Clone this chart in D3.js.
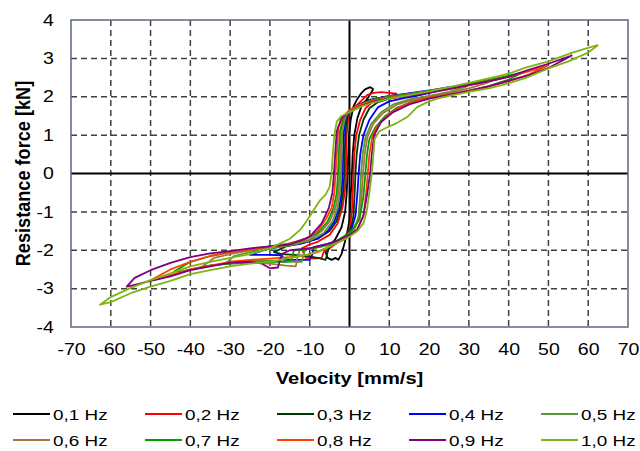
<!DOCTYPE html>
<html>
<head>
<meta charset="utf-8">
<title>Resistance force vs velocity</title>
<style>
  body { margin: 0; background: #fff; }
  text { font-family: "Liberation Sans", Arial, sans-serif; fill: #000; }
  .tick text { font-size: 16px; }
  .grid line { stroke: #404040; stroke-width: 1.5; stroke-dasharray: 6,4; }
  .title { font-size: 16.5px; font-weight: bold; }
  .leg { font-size: 15.5px; }
</style>
<script src="https://d3js.org/d3.v7.min.js"></script>
</head>
<body>
<svg id="chart" width="640" height="451"></svg>
<script>
// series labels and colours
var names = ["0,1 Hz", "0,2 Hz", "0,3 Hz", "0,4 Hz", "0,5 Hz", "0,6 Hz", "0,7 Hz", "0,8 Hz", "0,9 Hz", "1,0 Hz"];
var colors = ["#000000", "#ff0000", "#003a00", "#0000ff", "#5a9a32", "#a8743f", "#00a000", "#ff4000", "#800080", "#7fb414"];

var xTicks = [-70, -60, -50, -40, -30, -20, -10, 0, 10, 20, 30, 40, 50, 60, 70];
var yTicks = [-4, -3, -2, -1, 0, 1, 2, 3, 4];

// loops: [velocity mm/s, force kN]
var f01 = [[6,2.2],[5.2,2.25],[4,2.2],[3,2.1],[2,1.95],[1,1.75],[0.3,1.4],[-0.1,1.0],[-0.3,0.5],[-0.5,0],[-0.7,-0.5],[-1.1,-1.0],[-2,-1.4],[-3.5,-1.7],[-5,-1.9],[-6,-2.05],
  [-5.5,-2.2],[-4.5,-2.25],[-3.5,-2.2],[-2.8,-2.25],[-2,-2.1],[-1.2,-1.8],[-0.5,-1.5],[0,-1.2],[0.3,-0.6],[0.6,0],[0.8,0.5],[1.2,1.0],[2,1.45],[3,1.75],[4.5,1.95],[6,2.2]];
var f02 = [[12,2.08],[10,2.1],[8,2.12],[6,2.1],[4.5,2.05],[3,1.9],[1.5,1.75],[0,1.6],[-0.4,1.4],[-0.7,1.0],[-0.8,0.5],[-0.9,0],[-1.2,-0.5],[-1.8,-0.9],[-3,-1.3],[-5,-1.6],[-8,-1.78],[-10,-1.85],[-12,-1.95],
  [-11,-2.2],[-9,-2.22],[-7,-2.2],[-6.5,-2.05],[-5,-1.95],[-3,-1.8],[-1,-1.62],[0,-1.45],[0.6,-1.0],[0.8,-0.5],[1.0,0],[1.2,0.5],[1.7,1.0],[2.7,1.4],[4,1.7],[6,1.88],[9,1.98],[12,2.08]];
var f03 = [[19,2.12],[16,2.08],[12,2.03],[8,1.98],[5,1.92],[2.5,1.8],[0,1.65],[-0.6,1.45],[-1.0,1.1],[-1.2,0.5],[-1.3,0],[-1.6,-0.5],[-2.2,-0.9],[-3.3,-1.25],[-5,-1.5],[-8,-1.7],[-12,-1.82],[-16,-1.9],[-19,-2.05],
  [-17,-2.1],[-14,-2.12],[-11,-2.15],[-8,-2.2],[-6,-2.25],[-5.5,-2.05],[-5,-1.9],[-3,-1.78],[-1,-1.62],[0.3,-1.45],[1,-1.1],[1.3,-0.5],[1.5,0],[1.8,0.5],[2.4,1.0],[3.5,1.4],[5,1.7],[7,1.85],[10,1.95],[14,2.03],[19,2.12]];
var f04 = [[25,2.25],[21,2.18],[17,2.12],[13,2.06],[9,2.0],[6,1.93],[3,1.82],[0,1.65],[-0.9,1.45],[-1.4,1.1],[-1.6,0.5],[-1.7,0],[-2.0,-0.5],[-2.6,-0.9],[-3.8,-1.25],[-5.5,-1.5],[-8,-1.7],[-12,-1.82],[-17,-1.9],[-21,-1.98],[-25,-2.12],
  [-23,-2.12],[-20,-2.12],[-17,-2.13],[-16.5,-2.25],[-13,-2.25],[-10,-2.25],[-9.3,-2.1],[-9,-1.92],[-6,-1.85],[-3,-1.75],[-1,-1.62],[0.5,-1.45],[1.5,-1.1],[2,-0.5],[2.3,0],[2.7,0.5],[3.5,1.0],[5,1.4],[7.2,1.73],[10,1.88],[14,1.97],[18,2.05],[22,2.15],[25,2.25]];
var f05 = [[31,2.35],[27,2.27],[23,2.2],[19,2.13],[15,2.07],[10,2.0],[6,1.92],[3,1.8],[0,1.65],[-1.1,1.45],[-1.8,1.1],[-2.0,0.5],[-2.1,0],[-2.4,-0.5],[-3,-0.9],[-4.3,-1.25],[-6.5,-1.55],[-10,-1.75],[-15,-1.87],[-20,-1.95],[-25,-2.05],[-29,-2.15],[-31,-2.33],
  [-29,-2.32],[-25,-2.28],[-20,-2.27],[-16,-2.3],[-12,-2.3],[-11.5,-2.1],[-11,-1.95],[-8,-1.92],[-5,-1.85],[-2,-1.7],[0,-1.58],[1.5,-1.4],[2.3,-1.1],[2.7,-0.5],[2.9,0],[3.3,0.5],[4,0.95],[5.5,1.3],[8,1.6],[11,1.8],[15,1.93],[20,2.02],[25,2.13],[29,2.25],[31,2.35]];
var f06 = [[37,2.48],[33,2.4],[29,2.32],[25,2.24],[20,2.15],[15,2.07],[10,2.0],[6,1.92],[3,1.8],[0,1.65],[-1.3,1.45],[-2.1,1.1],[-2.3,0.5],[-2.5,0],[-2.8,-0.5],[-3.5,-0.9],[-5,-1.25],[-7,-1.5],[-10,-1.72],[-15,-1.85],[-20,-1.92],[-25,-2.0],[-30,-2.1],[-34,-2.2],[-37,-2.42],
  [-35,-2.4],[-30,-2.35],[-25,-2.32],[-20,-2.35],[-16,-2.4],[-13.5,-2.42],[-13,-2.15],[-12.5,-2.0],[-9,-1.95],[-6,-1.88],[-3,-1.75],[-1,-1.62],[1,-1.45],[2.5,-1.1],[3.1,-0.5],[3.4,0],[3.8,0.5],[4.5,0.95],[6,1.3],[8.5,1.58],[12,1.8],[16,1.92],[20,2.0],[25,2.1],[30,2.22],[34,2.34],[37,2.48]];
var f07 = [[44,2.65],[40,2.55],[35,2.43],[30,2.33],[25,2.23],[20,2.15],[15,2.07],[10,2.0],[6,1.92],[3,1.8],[0,1.65],[-1.5,1.45],[-2.4,1.1],[-2.7,0.5],[-2.9,0],[-3.2,-0.5],[-4,-0.9],[-5.5,-1.25],[-8,-1.55],[-12,-1.75],[-16,-1.85],[-20,-1.9],[-25,-1.97],[-30,-2.05],[-35,-2.15],[-40,-2.3],[-44,-2.55],
  [-42,-2.55],[-38,-2.45],[-34,-2.38],[-30,-2.35],[-25,-2.32],[-20,-2.3],[-16,-2.3],[-14.5,-2.25],[-14,-2.0],[-11,-1.98],[-7,-1.9],[-4,-1.8],[-1.5,-1.65],[0.5,-1.5],[2.5,-1.2],[3.5,-0.6],[4,0],[4.4,0.5],[5,0.9],[6.5,1.2],[9,1.5],[12,1.72],[16,1.88],[20,1.97],[25,2.06],[30,2.16],[35,2.28],[40,2.45],[44,2.65]];
var f08 = [[50,2.82],[45,2.66],[40,2.52],[35,2.4],[30,2.3],[25,2.2],[20,2.12],[15,2.05],[10,1.98],[6,1.9],[3,1.8],[0,1.65],[-1.5,1.5],[-2.8,1.2],[-3.2,0.5],[-3.5,0],[-3.8,-0.5],[-4.5,-0.9],[-6,-1.2],[-8,-1.5],[-11,-1.7],[-15,-1.82],[-20,-1.9],[-25,-1.98],[-30,-2.05],[-35,-2.15],[-40,-2.3],[-45,-2.5],[-50,-2.78],
  [-48,-2.75],[-45,-2.65],[-40,-2.5],[-35,-2.4],[-30,-2.3],[-25,-2.25],[-20,-2.22],[-15,-2.18],[-12,-2.15],[-8,-2.05],[-5,-1.9],[-2,-1.75],[0,-1.62],[2,-1.45],[3.5,-1.1],[4.2,-0.5],[4.6,0],[5,0.5],[5.8,1.0],[7.5,1.3],[10,1.55],[13,1.75],[17,1.9],[20,1.98],[25,2.06],[30,2.16],[35,2.27],[40,2.4],[45,2.58],[50,2.82]];
var f09 = [[56,3.08],[50,2.86],[45,2.7],[40,2.52],[35,2.4],[30,2.3],[25,2.2],[20,2.1],[15,2.02],[10,1.95],[6,1.87],[3,1.76],[0,1.6],[-2,1.45],[-3.2,1.1],[-3.6,0.5],[-3.9,0],[-4.3,-0.5],[-5.2,-0.9],[-7,-1.3],[-10,-1.65],[-15,-1.85],[-20,-1.9],[-25,-1.95],[-30,-2.02],[-35,-2.08],[-40,-2.18],[-45,-2.33],[-50,-2.52],[-54,-2.72],[-56,-2.95],
  [-54,-2.9],[-50,-2.8],[-45,-2.68],[-40,-2.52],[-35,-2.42],[-30,-2.32],[-25,-2.3],[-22,-2.35],[-20,-2.47],[-18,-2.45],[-17,-2.1],[-15,-2.0],[-10,-1.95],[-6,-1.85],[-3,-1.75],[0,-1.6],[2,-1.45],[3.5,-1.1],[4.5,-0.5],[5.2,0],[5.6,0.5],[6.2,1.0],[8,1.35],[11,1.6],[15,1.8],[20,1.95],[25,2.05],[30,2.15],[35,2.27],[40,2.42],[45,2.56],[50,2.75],[56,3.08]];
var f10 = [[62.5,3.35],[56,3.15],[50,2.92],[44,2.75],[40,2.6],[35,2.48],[30,2.36],[25,2.25],[20,2.14],[15,2.04],[10,1.95],[6,1.85],[3,1.75],[0,1.6],[-2,1.5],[-3.2,1.35],[-3.8,1.0],[-4.2,0.5],[-4.5,0],[-5,-0.35],[-6,-0.55],[-7.4,-0.7],[-9,-0.95],[-10.5,-1.2],[-12.4,-1.47],[-15,-1.7],[-20,-1.95],[-25,-2.1],[-30,-2.2],[-35,-2.3],[-40,-2.42],[-45,-2.6],[-50,-2.78],[-55,-2.98],[-60,-3.22],[-62.7,-3.42],
  [-60,-3.35],[-55,-3.12],[-50,-2.95],[-45,-2.8],[-40,-2.62],[-35,-2.52],[-30,-2.42],[-25,-2.35],[-20,-2.3],[-15,-2.2],[-10,-2.1],[-6,-1.95],[-3,-1.8],[0,-1.65],[2,-1.5],[3.5,-1.3],[4.3,-1.0],[5,-0.5],[5.6,0],[6,0.5],[6.3,0.9],[7.5,1.1],[9.4,1.2],[12,1.32],[14.5,1.47],[17,1.73],[20,1.88],[22,1.95],[25,2.02],[30,2.13],[35,2.22],[40,2.35],[45,2.52],[50,2.74],[55,2.92],[60,3.15],[62.5,3.35]];

var loops = [f01, f02, f03, f04, f05, f06, f07, f08, f09, f10];

var svg = d3.select("#chart");
var pLeft = 71, pRight = 628, pTop = 20, pBottom = 327;
var stretch = 1.22; // the reference text is drawn a bit wide

var x = d3.scaleLinear().domain([-70, 70]).range([pLeft, pRight]);
var y = d3.scaleLinear().domain([-4, 4]).range([pBottom, pTop]);

// dashed grid
var grid = svg.append("g").attr("class", "grid");
grid.selectAll(".gx").data(xTicks.filter(function(d) { return d != 0 && d != -70 && d != 70; }))
  .enter().append("line")
  .attr("x1", function(d) { return x(d); }).attr("x2", function(d) { return x(d); })
  .attr("y1", pTop).attr("y2", pBottom);
grid.selectAll(".gy").data(yTicks.filter(function(d) { return d != 0 && d != -4 && d != 4; }))
  .enter().append("line")
  .attr("y1", function(d) { return y(d); }).attr("y2", function(d) { return y(d); })
  .attr("x1", pLeft).attr("x2", pRight);

// zero axes
svg.append("line").attr("x1", x(0)).attr("x2", x(0)).attr("y1", pTop).attr("y2", pBottom)
  .attr("stroke", "#000").attr("stroke-width", 2);
svg.append("line").attr("x1", pLeft).attr("x2", pRight).attr("y1", y(0)).attr("y2", y(0))
  .attr("stroke", "#000").attr("stroke-width", 2);

// loops
var line = d3.line().x(function(d) { return x(d[0]); }).y(function(d) { return y(d[1]); });
svg.append("g").selectAll("path").data(loops).enter().append("path")
  .attr("d", line)
  .attr("fill", "none")
  .attr("stroke", function(d, i) { return colors[i]; })
  .attr("stroke-width", 1.8)
  .attr("stroke-linejoin", "round");

// plot border
svg.append("rect").attr("x", pLeft).attr("y", pTop).attr("width", pRight - pLeft).attr("height", pBottom - pTop)
  .attr("fill", "none").attr("stroke", "#5a6a7e").attr("stroke-width", 1.5);

// tick labels
var fmt = function(d) { return String(d); };
svg.append("g").attr("transform", "translate(0," + pBottom + ")")
  .call(d3.axisBottom(x).tickValues(xTicks).tickSize(0).tickPadding(17).tickFormat(fmt))
  .call(function(g) { g.select(".domain").remove(); });
svg.append("g").attr("transform", "translate(" + pLeft + ",0)")
  .call(d3.axisLeft(y).tickValues(yTicks).tickSize(0).tickPadding(14).tickFormat(fmt))
  .call(function(g) { g.select(".domain").remove(); });
svg.selectAll(".tick text").attr("fill", "#000")
  .attr("transform", "scale(" + stretch + ",1)")
  .style("font-family", "'Liberation Sans', Arial, sans-serif");

// axis titles
svg.append("text").attr("class", "title")
  .attr("transform", "translate(" + x(0) + ",384) scale(" + stretch + ",1)")
  .attr("text-anchor", "middle").text("Velocity [mm/s]");
svg.append("text").attr("class", "title")
  .attr("transform", "translate(30," + y(0) + ") rotate(-90) scale(1.1," + stretch + ")")
  .attr("text-anchor", "middle").text("Resistance force [kN]");

// legend, 5 columns x 2 rows
var leg = svg.append("g").selectAll("g").data(names).enter().append("g")
  .attr("transform", function(d, i) { return "translate(" + (13 + (i % 5) * 132) + "," + (414 + Math.floor(i / 5) * 26) + ")"; });
leg.append("line").attr("x1", 0).attr("x2", 37).attr("y1", 0).attr("y2", 0)
  .attr("stroke", function(d, i) { return colors[i]; }).attr("stroke-width", 1.8);
leg.append("text").attr("class", "leg")
  .attr("transform", "translate(40,5.5) scale(" + stretch + ",1)")
  .text(function(d) { return d; });
</script>
</body>
</html>
